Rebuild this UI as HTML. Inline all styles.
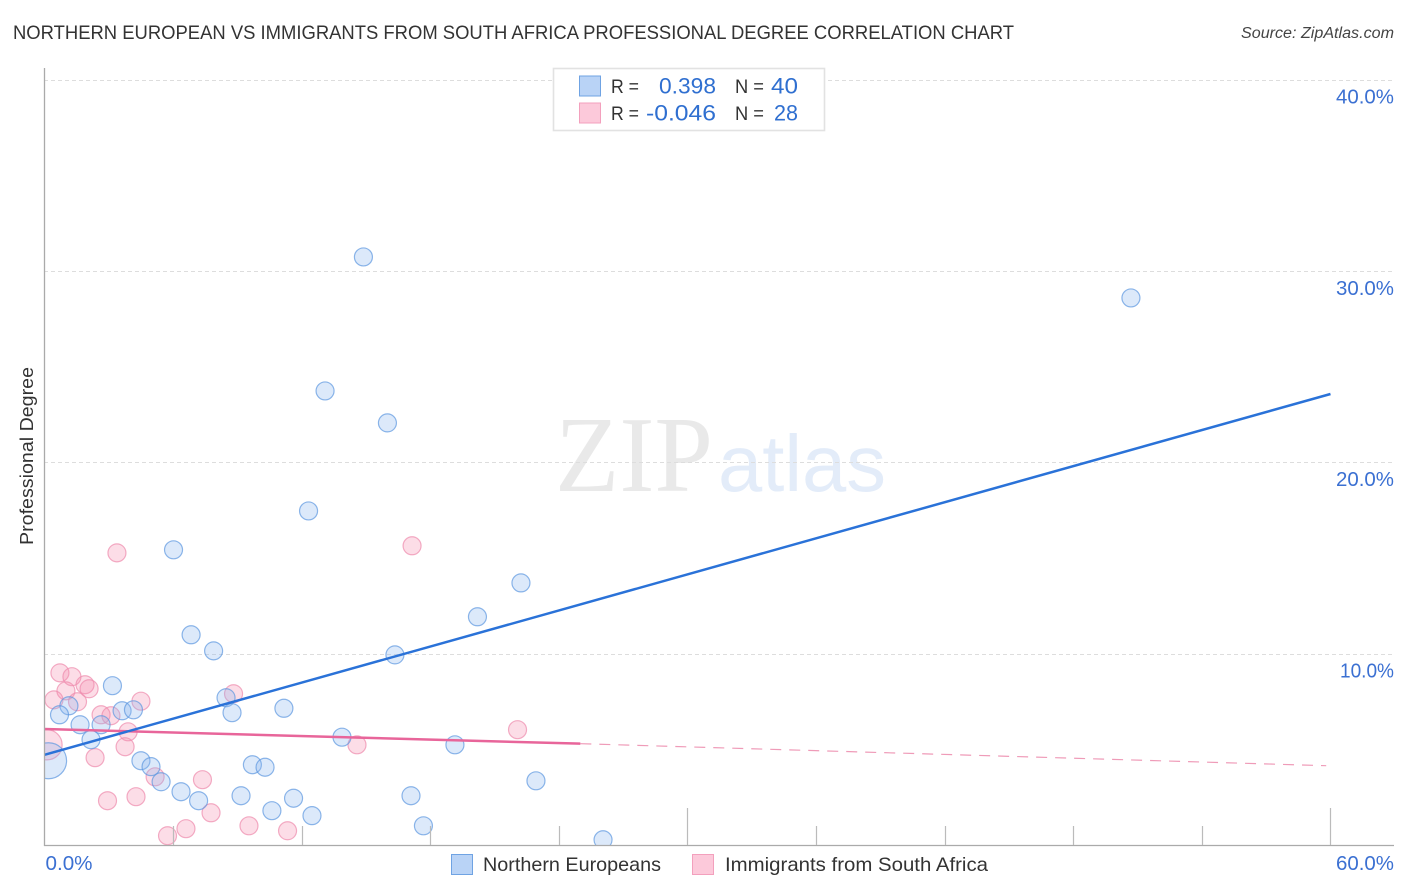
<!DOCTYPE html>
<html lang="en">
<head>
<meta charset="utf-8">
<title>Northern European vs Immigrants from South Africa Professional Degree Correlation Chart</title>
<style>
html,body{margin:0;padding:0;background:#fff;}
svg{display:block;}
text{font-family:"Liberation Sans",sans-serif;}
</style>
</head>
<body>
<svg id="chart" xmlns="http://www.w3.org/2000/svg" width="1406" height="892" viewBox="0 0 1406 892">
  <defs>
    <clipPath id="plot-clip"><rect x="45" y="60" width="1349" height="785"></rect></clipPath>
  </defs>
  <rect x="0" y="0" width="1406" height="892" fill="#ffffff"></rect>
  <text x="13" y="39" font-size="19.5" fill="#333333" textLength="1001" lengthAdjust="spacingAndGlyphs">NORTHERN EUROPEAN VS IMMIGRANTS FROM SOUTH AFRICA PROFESSIONAL DEGREE CORRELATION CHART</text>
  <text x="1241" y="38" font-size="15.5" font-style="italic" fill="#444444" textLength="153" lengthAdjust="spacingAndGlyphs">Source: ZipAtlas.com</text>

  <g>
    <text x="555" y="491" font-size="108" fill="#e9e9e9" textLength="158" lengthAdjust="spacingAndGlyphs" style="font-family:'Liberation Serif',serif">ZIP</text>
    <text x="718" y="491" font-size="80" fill="#e3ecf9" textLength="168" lengthAdjust="spacingAndGlyphs">atlas</text>
  </g>

  <g id="grid"></g>
  <g id="points" clip-path="url(#plot-clip)"></g>
  <g id="trends"></g>

  <line x1="44.5" y1="68" x2="44.5" y2="846" stroke="#aaaaaa" stroke-width="1.3"></line>
  <line x1="44" y1="845.5" x2="1394" y2="845.5" stroke="#aaaaaa" stroke-width="1.3"></line>
  <g id="xticks"></g>
  <g id="ylabels"></g>
  <g id="xlabels"></g>

  <text transform="translate(33,545) rotate(-90)" x="0" y="0" font-size="18" fill="#333333" textLength="178" lengthAdjust="spacingAndGlyphs">Professional Degree</text>

  <g>
    <rect x="553.5" y="68.5" width="271" height="62" fill="#ffffff" stroke="#e2e2e2" stroke-width="1.6"></rect>
    <rect x="579.5" y="76" width="21" height="20" fill="#b9d3f6" stroke="#6fa3e3" stroke-width="1"></rect>
    <rect x="579.5" y="103" width="21" height="20" fill="#fcc9da" stroke="#f3a0bd" stroke-width="1"></rect>
    <text x="611" y="93" font-size="19" fill="#333333" textLength="28" lengthAdjust="spacingAndGlyphs">R =</text>
    <text x="659" y="93.5" font-size="22" fill="#2f6fd0" textLength="57" lengthAdjust="spacingAndGlyphs">0.398</text>
    <text x="735" y="93" font-size="19" fill="#333333" textLength="29" lengthAdjust="spacingAndGlyphs">N =</text>
    <text x="771" y="93.5" font-size="22" fill="#2f6fd0" textLength="27" lengthAdjust="spacingAndGlyphs">40</text>
    <text x="611" y="120" font-size="19" fill="#333333" textLength="28" lengthAdjust="spacingAndGlyphs">R =</text>
    <text x="646" y="120.5" font-size="22" fill="#2f6fd0" textLength="70" lengthAdjust="spacingAndGlyphs">-0.046</text>
    <text x="735" y="120" font-size="19" fill="#333333" textLength="29" lengthAdjust="spacingAndGlyphs">N =</text>
    <text x="774" y="120.5" font-size="22" fill="#2f6fd0" textLength="24" lengthAdjust="spacingAndGlyphs">28</text>
  </g>

  <g>
    <rect x="451.5" y="854.5" width="21" height="20" fill="#b9d3f6" stroke="#6fa3e3" stroke-width="1"></rect>
    <text x="483" y="871" font-size="19.5" fill="#333333" textLength="178" lengthAdjust="spacingAndGlyphs">Northern Europeans</text>
    <rect x="692.5" y="854.5" width="21" height="20" fill="#fcc9da" stroke="#f3a0bd" stroke-width="1"></rect>
    <text x="725" y="871" font-size="19.5" fill="#333333" textLength="263" lengthAdjust="spacingAndGlyphs">Immigrants from South Africa</text>
  </g>
</svg>
<script>
var blueX = [14.88,50.69,13.09,16.00,12.32,6.02,22.23,20.20,6.84,7.89,16.35,3.17,8.47,8.75,11.17,1.14,3.62,4.15,0.70,1.66,2.64,2.17,13.88,19.15,4.50,4.97,9.70,10.29,5.44,22.93,6.37,7.19,9.17,11.62,10.61,12.48,17.10,17.68,26.06,0.19];
var blueY = [30.76,28.62,23.76,22.09,17.49,15.46,13.73,11.96,11.02,10.18,9.97,8.36,7.73,6.95,7.18,7.31,7.05,7.10,6.84,6.32,6.32,5.54,5.67,5.27,4.44,4.13,4.23,4.10,3.34,3.39,2.82,2.35,2.61,2.48,1.83,1.57,2.61,1.04,0.31,4.44];
var blueWeight = [1,1,1,1,1,1,1,1,1,1,1,1,1,1,1,1,1,1,1,1,1,1,1,1,1,1,1,1,1,1,1,1,1,1,1,1,1,1,1,4];
var pinkX = [3.38,17.15,0.72,1.28,1.89,2.08,1.00,0.44,1.54,4.50,8.82,2.64,3.10,3.90,3.76,2.36,22.07,14.58,2.94,4.27,5.16,7.37,7.77,6.60,5.74,9.54,11.34,0.12];
var pinkY = [15.30,15.67,9.03,8.83,8.41,8.20,8.09,7.62,7.52,7.55,7.94,6.84,6.79,5.95,5.17,4.60,6.06,5.27,2.35,2.56,3.60,3.45,1.72,0.89,0.52,1.04,0.78,5.27];
var pinkWeight = [1,1,1,1,1,1,1,1,1,1,1,1,1,1,1,1,1,1,1,1,1,1,1,1,1,1,1,2.8];
var blueTrendX = [0,60];
var blueTrendY = [4.75,23.6];
var pinkSolidX = [0,25];
var pinkSolidY = [6.1,5.33];
var pinkDashX = [25,59.8];
var pinkDashY = [5.33,4.18];
var yTicks = [10,20,30,40];
var yTickLabels = ["10.0%","20.0%","30.0%","40.0%"];
var xTicks = [0,6,12,18,24,30,36,42,48,54,60];
var xMajorTicks = [30,60];
var xEdgeLabels = ["0.0%","60.0%"];
var xEdgeValues = [0,60];

var NS = "http://www.w3.org/2000/svg";
function xScale(v){ return 44.5 + v * 21.433; }
function yScale(v){ return 845.7 - v * 19.14; }
function make(tag, parent){
  var el = document.createElementNS(NS, tag);
  parent.appendChild(el);
  return el;
}

var grid = document.getElementById("grid");
var ylabels = document.getElementById("ylabels");
yTicks.forEach(function(t, i){
  var y = Math.floor(yScale(t)) + 0.5;
  var g = make("line", grid);
  
  
  g.setAttribute("x1", 44); g.setAttribute("x2", 1394);
  g.setAttribute("y1", y); g.setAttribute("y2", y);
  g.setAttribute("stroke", "#dddddd");
  g.setAttribute("stroke-width", "1");
  g.setAttribute("stroke-dasharray", "4 3");
  var lab = make("text", ylabels);
  
  
  lab.setAttribute("x", 1394 - (i === 0 ? 54 : 58));
  lab.setAttribute("y", yScale(t) + 23.3);
  lab.setAttribute("font-size", "20");
  lab.setAttribute("fill", "#3b70d2");
  lab.setAttribute("textLength", i === 0 ? 54 : 58);
  lab.setAttribute("lengthAdjust", "spacingAndGlyphs");
  lab.textContent = yTickLabels[i];
});

var xticks = document.getElementById("xticks");
xTicks.forEach(function(t){
  if (t === 0) return;
  var x = Math.round(xScale(t)) + 0.5;
  var major = xMajorTicks.indexOf(t) >= 0;
  var tk = make("line", xticks);
  
  
  tk.setAttribute("x1", x); tk.setAttribute("x2", x);
  tk.setAttribute("y1", major ? 808 : 826); tk.setAttribute("y2", 845);
  tk.setAttribute("stroke", "#bbbbbb");
  tk.setAttribute("stroke-width", "1.2");
});

var xlabels = document.getElementById("xlabels");
xEdgeValues.forEach(function(t, i){
  var lab = make("text", xlabels);
  
  
  lab.setAttribute("x", i === 0 ? xScale(t) + 1 : xScale(t) + 5.5);
  lab.setAttribute("y", 870);
  lab.setAttribute("font-size", "20");
  lab.setAttribute("fill", "#3b70d2");
  lab.setAttribute("textLength", i === 0 ? 47 : 58);
  lab.setAttribute("lengthAdjust", "spacingAndGlyphs");
  lab.textContent = xEdgeLabels[i];
});

var points = document.getElementById("points");
function drawSeries(xs, ys, ws, fill, stroke){
  xs.forEach(function(v, i){
    var c = make("circle", points);
    
    
    c.setAttribute("cx", xScale(v));
    c.setAttribute("cy", yScale(ys[i]));
    c.setAttribute("r", 9 * Math.sqrt(ws[i]));
    c.setAttribute("fill", fill);
    c.setAttribute("fill-opacity", "0.3");
    c.setAttribute("stroke", stroke);
    c.setAttribute("stroke-opacity", "0.7");
    c.setAttribute("stroke-width", "1.2");
  });
}
drawSeries(pinkX, pinkY, pinkWeight, "#f48fb1", "#ee8aac");
drawSeries(blueX, blueY, blueWeight, "#8ab6ee", "#5c97e0");

var trends = document.getElementById("trends");
function drawLine(xs, ys, name, color, width, dash, opacity){
  var l = make("line", trends);
  
  
  l.setAttribute("x1", xScale(xs[0])); l.setAttribute("y1", yScale(ys[0]));
  l.setAttribute("x2", xScale(xs[1])); l.setAttribute("y2", yScale(ys[1]));
  l.setAttribute("stroke", color);
  l.setAttribute("stroke-width", width);
  l.setAttribute("stroke-opacity", opacity);
  if (dash) l.setAttribute("stroke-dasharray", dash);
}
drawLine(pinkDashX, pinkDashY, "pink-trend-extrapolated", "#e8709a", 1.2, "11 8", 0.7);
drawLine(pinkSolidX, pinkSolidY, "pink-trend-line", "#e8659a", 2.5, null, 1);
drawLine(blueTrendX, blueTrendY, "blue-trend-line", "#2a72d8", 2.5, null, 1);
</script>
</body>
</html>
